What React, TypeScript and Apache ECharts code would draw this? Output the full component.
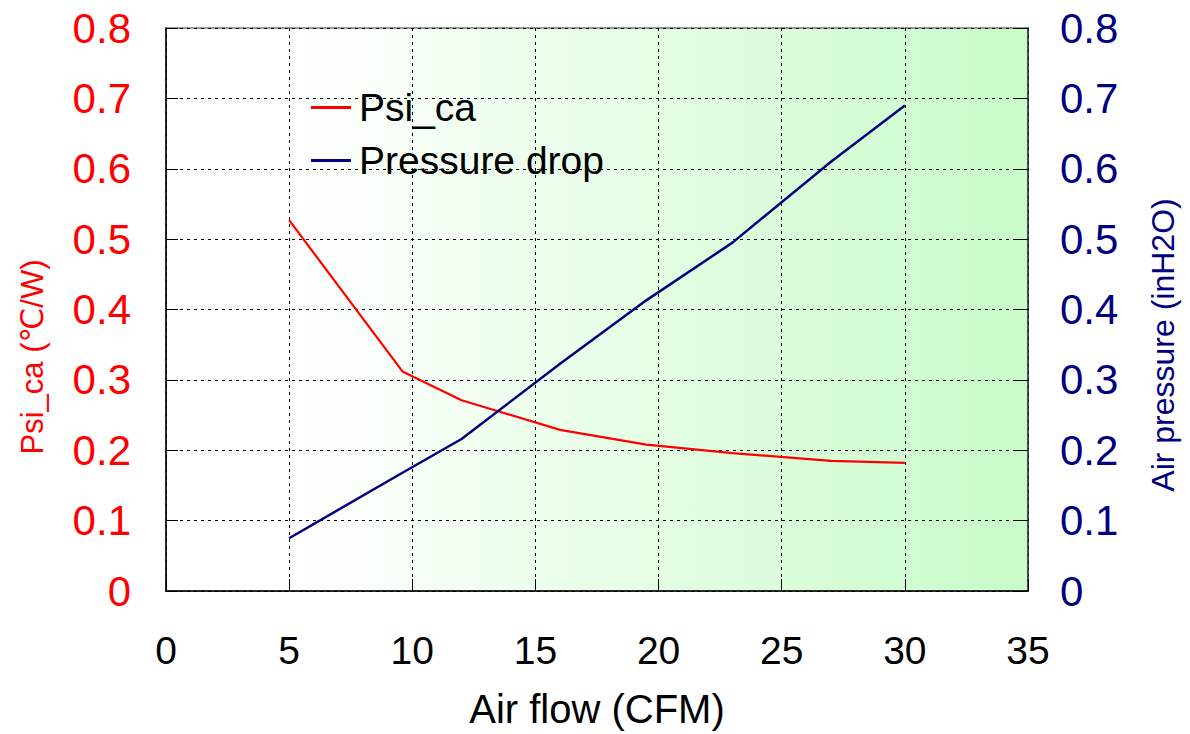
import React, { useEffect, useRef } from "react";
import * as echarts from "echarts";

const airFlow = [5, 9.6, 12, 16, 19.5, 23, 27, 30];
const psiCa = [0.527, 0.312, 0.271, 0.229, 0.208, 0.196, 0.185, 0.182];
const pressureDrop = [0.075, 0.168, 0.216, 0.323, 0.413, 0.495, 0.61, 0.69];

const seriesNames = ["Psi_ca", "Pressure drop"];
const xAxisTitle = "Air flow (CFM)";
const leftAxisTitle = "Psi_ca (\u2103/W)";
const rightAxisTitle = "Air pressure (inH2O)";

const fam = '"Liberation Sans", Arial, "DejaVu Sans", sans-serif';

export default function App() {
  const ref = useRef<HTMLDivElement>(null);
  useEffect(() => {
    if (!ref.current) return;
    const chart = echarts.init(ref.current, undefined, { renderer: "svg" });
    chart.setOption({
      animation: false,
      backgroundColor: "#ffffff",
      grid: {
        left: 166,
        top: 28,
        right: 162,
        bottom: 141,
        show: true,
        borderColor: "#7a7a7a",
        borderWidth: 1.5,
        backgroundColor: new echarts.graphic.LinearGradient(0, 0, 1, 0, [
          { offset: 0, color: "#ffffff" },
          { offset: 0.14, color: "#ffffff" },
          { offset: 1, color: "#c8fcc8" },
        ]),
      },
      legend: {
        orient: "vertical",
        left: 306,
        top: 83,
        itemGap: 14,
        itemWidth: 40,
        itemHeight: 3,
        icon: "rect",
        textStyle: { fontFamily: fam, fontSize: 39, color: "#000", padding: [0, 0, 0, 3] },
        data: seriesNames,
      },
      xAxis: {
        type: "value",
        min: 0,
        max: 35,
        interval: 5,
        name: xAxisTitle,
        nameLocation: "middle",
        nameGap: 98,
        nameTextStyle: { fontFamily: fam, fontSize: 40, color: "#000" },
        axisLine: { show: true, lineStyle: { color: "#000", width: 1.5 } },
        axisTick: { show: true, inside: true, length: 12, lineStyle: { color: "#000" } },
        axisLabel: { fontFamily: fam, fontSize: 39, color: "#000", margin: 40 },
        splitLine: { show: true, lineStyle: { color: "#000", type: [3, 4], width: 1 } },
      },
      yAxis: [
        {
          type: "value",
          min: 0,
          max: 0.8,
          interval: 0.1,
          position: "left",
          axisLine: { show: true, lineStyle: { color: "#000", width: 1.5 } },
          axisTick: { show: true, inside: true, length: 12, lineStyle: { color: "#000" } },
          axisLabel: { fontFamily: fam, fontSize: 42, color: "#ff0000", margin: 35 },
          splitLine: { show: true, lineStyle: { color: "#000", type: [3, 4], width: 1 } },
        },
        {
          type: "value",
          min: 0,
          max: 0.8,
          interval: 0.1,
          position: "right",
          axisLine: { show: true, lineStyle: { color: "#333", width: 1.5 } },
          axisTick: { show: true, inside: true, length: 14, lineStyle: { color: "#000" } },
          axisLabel: { fontFamily: fam, fontSize: 42, color: "#000080", margin: 32 },
          splitLine: { show: false },
        },
      ],
      graphic: [
        {
          type: "text",
          x: 32,
          y: 357,
          rotation: Math.PI / 2,
          style: {
            text: leftAxisTitle,
            fill: "#ff0000",
            font: `31px ${fam}`,
            textAlign: "center",
            textVerticalAlign: "middle",
          },
        },
        {
          type: "text",
          x: 1163,
          y: 345,
          rotation: Math.PI / 2,
          style: {
            text: rightAxisTitle,
            fill: "#000080",
            font: `32px ${fam}`,
            textAlign: "center",
            textVerticalAlign: "middle",
          },
        },
      ],
      series: [
        {
          name: seriesNames[0],
          type: "line",
          yAxisIndex: 0,
          data: airFlow.map((x, i) => [x, psiCa[i]]),
          showSymbol: false,
          symbol: "none",
          itemStyle: { color: "#ff0000" },
          lineStyle: { color: "#ff0000", width: 2.2 },
        },
        {
          name: seriesNames[1],
          type: "line",
          yAxisIndex: 1,
          data: airFlow.map((x, i) => [x, pressureDrop[i]]),
          showSymbol: false,
          symbol: "none",
          itemStyle: { color: "#000080" },
          lineStyle: { color: "#000080", width: 2.5 },
        },
      ],
    });
    return () => chart.dispose();
  }, []);
  return (
    <div
      ref={ref}
      style={{ position: "fixed", left: 0, top: 0, width: 1190, height: 734 }}
    />
  );
}
